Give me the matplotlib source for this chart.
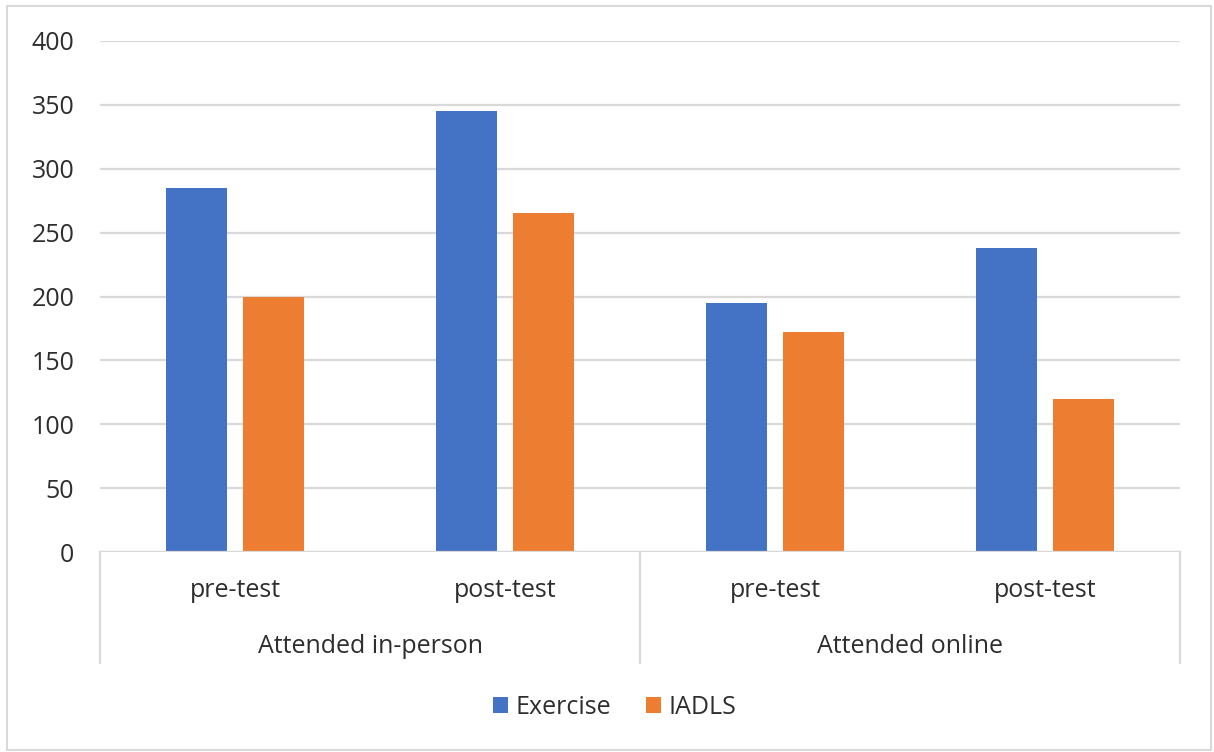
import matplotlib.pyplot as plt
from matplotlib.patches import Rectangle

groups = ["Attended in-person", "Attended online"]
phases = ["pre-test", "post-test", "pre-test", "post-test"]
exercise = [285, 345, 195, 238]
iadls = [200, 265, 172, 120]
y_ticks = [0, 50, 100, 150, 200, 250, 300, 350, 400]

BLUE = "#4472C4"
ORANGE = "#ED7D31"
GRID = "#d9d9d9"
TEXT = "#2e2e2e"
FS = 18

plt.rcParams["font.family"] = ["Open Sans", "DejaVu Sans"]

W, H = 1214, 752
fig = plt.figure(figsize=(W / 100, H / 100), dpi=100)
fig.patches.append(Rectangle((7 / W, 2 / H), 1204 / W, 744 / H, transform=fig.transFigure,
                             fill=False, edgecolor=GRID, linewidth=1.5))

ax = fig.add_axes([100 / W, 200 / H, 1080 / W, 511 / H])

x = list(range(len(phases)))
bw = 0.226
off = 0.1426
b1 = ax.bar([i - off for i in x], exercise, bw, color=BLUE, label="Exercise", zorder=3)
b2 = ax.bar([i + off for i in x], iadls, bw, color=ORANGE, label="IADLS", zorder=3)

ax.set_xlim(-0.5, len(phases) - 0.5)
ax.set_ylim(0, 400)
ax.set_yticks(y_ticks)
ax.tick_params(axis="y", length=0, pad=18.5, labelsize=FS, labelcolor=TEXT)
ax.set_xticks([])
ax.yaxis.grid(True, color=GRID, linewidth=1.6, zorder=0)
for s in ax.spines.values():
    s.set_visible(False)
ax.axhline(0, color=GRID, linewidth=1.6, zorder=4)

# multi-level category axis underneath
tr = ax.get_xaxis_transform()
for i, p in enumerate(phases):
    ax.text(i, -0.075, p, transform=tr, ha="center", va="center", fontsize=FS, color=TEXT)
for g, name in enumerate(groups):
    ax.text(2 * g + 0.5, -0.184, name, transform=tr, ha="center", va="center",
            fontsize=FS, color=TEXT)
for xs in [-0.5, 1.5, 3.5]:
    ax.plot([xs, xs], [0, -0.217], transform=tr, color=GRID, linewidth=1.6, clip_on=False)

fig.legend(handles=[b1, b2], loc="center", bbox_to_anchor=(615 / W, 1 - 707 / H), ncol=2,
           frameon=False, fontsize=FS, handlelength=0.6, handleheight=0.6,
           handletextpad=0.3, columnspacing=1.4, labelcolor=TEXT)

fig.savefig("out.png", dpi=100)
